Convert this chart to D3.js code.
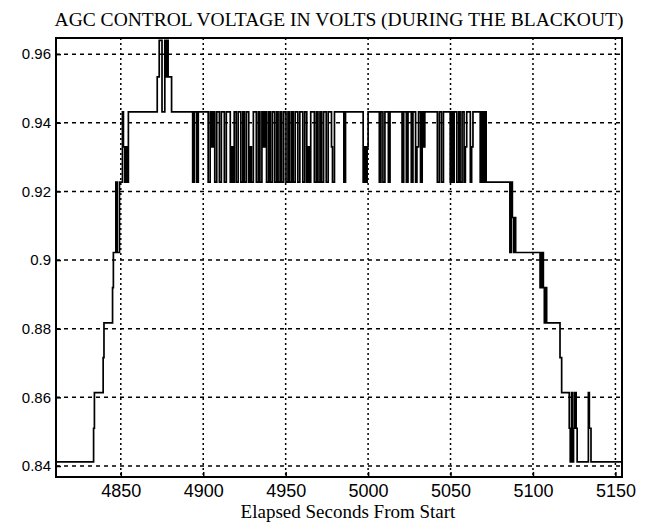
<!DOCTYPE html>
<html>
<head>
<meta charset="utf-8">
<script src="https://cdn.jsdelivr.net/npm/d3@7"></script>
<style>
body { margin: 0; background: #fff; }
</style>
</head>
<body>
<div id="chart"></div>
<script>
// AGC voltage (seconds, volts)
var times = [
	4810.7, 4833.5, 4834.0, 4839.3, 4839.8, 4845.0, 4845.5,
	4847.0, 4847.8, 4849.2, 4851.0, 4851.6, 4852.4, 4853.2, 4854.0, 4854.6,
	4872.1, 4873.3, 4875.0, 4876.7, 4877.6, 4878.0, 4878.7, 4880.8,
	4893.6, 4894.6, 4896.0, 4897.0, 4903.0, 4904.2, 4905.2, 4906.0,
	4907.0, 4908.2, 4909.8, 4911.0, 4912.8, 4914.0,
	4916.4, 4917.3, 4917.8, 4918.8, 4920.0, 4921.2, 4922.8, 4924.0, 4925.0, 4926.2,
	4927.6, 4928.6, 4929.2, 4930.4, 4932.2, 4933.4, 4934.4, 4935.6, 4936.6, 4937.4,
	4938.4, 4939.6, 4940.6, 4941.8, 4943.2, 4944.4, 4945.4, 4946.6, 4947.6, 4948.8,
	4950.2, 4951.4, 4952.4, 4953.6, 4954.6, 4955.8, 4957.4, 4958.6, 4960.4, 4961.6,
	4962.8, 4963.7, 4964.2, 4965.2, 4967.4, 4968.6, 4969.6, 4970.8, 4971.8, 4973.0,
	4974.6, 4975.8, 4977.8, 4978.4, 4979.6, 4985.3, 4986.3,
	4997.0, 4997.8, 4998.5, 4999.4, 5000.0,
	5006.8, 5007.8, 5009.0, 5010.2, 5012.3, 5013.3,
	5020.6, 5021.6, 5023.2, 5024.2, 5026.2, 5027.2, 5028.8, 5029.6, 5030.6,
	5031.8, 5032.8, 5033.8, 5034.4,
	5042.0, 5043.2, 5044.5, 5045.7, 5049.8, 5050.6, 5051.4, 5052.2,
	5053.8, 5055.0, 5055.8, 5057.0, 5058.2, 5059.0, 5059.8,
	5062.0, 5062.8, 5063.6, 5068.0, 5068.8, 5069.6, 5070.6, 5071.6,
	5086.0, 5086.8, 5087.5, 5088.2, 5088.8, 5089.5,
	5104.3, 5104.8, 5105.3, 5105.8, 5106.3, 5106.9, 5107.4, 5108.3,
	5116.4, 5117.4,
	5122.0, 5122.6, 5123.4, 5124.0, 5124.6, 5125.2, 5126.2, 5126.8,
	5133.6, 5134.2, 5135.2, 5154.0
];
var volts = [
	0.8412, 0.8510, 0.8614, 0.8716, 0.8817, 0.8920, 0.9022,
	0.9227, 0.9022, 0.9227, 0.9432, 0.9330, 0.9227, 0.9330, 0.9227, 0.9432,
	0.9534, 0.9640, 0.9432, 0.9640, 0.9534, 0.9640, 0.9534, 0.9432,
	0.9227, 0.9432, 0.9227, 0.9432, 0.9227, 0.9432, 0.9330, 0.9432,
	0.9227, 0.9432, 0.9227, 0.9432, 0.9227, 0.9432,
	0.9227, 0.9330, 0.9227, 0.9432, 0.9227, 0.9432, 0.9227, 0.9432, 0.9227, 0.9432,
	0.9227, 0.9330, 0.9227, 0.9432, 0.9227, 0.9432, 0.9227, 0.9432, 0.9330, 0.9432,
	0.9227, 0.9432, 0.9227, 0.9432, 0.9227, 0.9432, 0.9227, 0.9432, 0.9227, 0.9432,
	0.9227, 0.9432, 0.9227, 0.9432, 0.9227, 0.9432, 0.9227, 0.9432, 0.9227, 0.9432,
	0.9227, 0.9330, 0.9227, 0.9432, 0.9227, 0.9432, 0.9227, 0.9432, 0.9227, 0.9432,
	0.9227, 0.9432, 0.9330, 0.9227, 0.9432, 0.9227, 0.9432,
	0.9227, 0.9330, 0.9227, 0.9330, 0.9432,
	0.9227, 0.9432, 0.9227, 0.9432, 0.9227, 0.9432,
	0.9227, 0.9432, 0.9227, 0.9432, 0.9227, 0.9432, 0.9227, 0.9330, 0.9432,
	0.9227, 0.9432, 0.9330, 0.9432,
	0.9227, 0.9432, 0.9227, 0.9432, 0.9227, 0.9432, 0.9227, 0.9432,
	0.9227, 0.9432, 0.9227, 0.9432, 0.9227, 0.9330, 0.9432,
	0.9227, 0.9330, 0.9432, 0.9227, 0.9432, 0.9227, 0.9432, 0.9227,
	0.9022, 0.9227, 0.9124, 0.9022, 0.9124, 0.9022,
	0.8920, 0.9022, 0.8920, 0.9022, 0.8920, 0.8817, 0.8920, 0.8817,
	0.8716, 0.8614,
	0.8510, 0.8412, 0.8614, 0.8412, 0.8510, 0.8614, 0.8510, 0.8412,
	0.8614, 0.8510, 0.8412, 0.8412
];
var x_ticks = [4850, 4900, 4950, 5000, 5050, 5100, 5150];
var y_ticks = [0.84, 0.86, 0.88, 0.9, 0.92, 0.94, 0.96];
var y_tick_labels = ['0.84', '0.86', '0.88', '0.9', '0.92', '0.94', '0.96'];

var chart_width = 646;
var chart_height = 525;
// plot box ("top" clashes with window.top, hence the prefix)
var plot_left = 56, plot_right = 622, plot_top = 38, plot_bottom = 477;

var svg = d3.select('#chart')
	.append('svg')
	.attr('width', chart_width)
	.attr('height', chart_height);

var x = d3.scaleLinear().domain([4810.7, 5154]).range([plot_left, plot_right]);
var y = d3.scaleLinear().domain([0.8368, 0.9647]).range([plot_bottom, plot_top]);

// grid
svg.selectAll('.hgrid')
	.data(y_ticks)
	.enter()
	.append('line')
	.attr('x1', plot_left).attr('x2', plot_right)
	.attr('y1', function(d){ return y(d); })
	.attr('y2', function(d){ return y(d); })
	.attr('stroke', '#000')
	.attr('stroke-width', 1.5)
	.attr('stroke-dasharray', '4,4');

svg.selectAll('.vgrid')
	.data(x_ticks)
	.enter()
	.append('line')
	.attr('x1', function(d){ return x(d); })
	.attr('x2', function(d){ return x(d); })
	.attr('y1', plot_top).attr('y2', plot_bottom)
	.attr('stroke', '#000')
	.attr('stroke-width', 1.5)
	.attr('stroke-dasharray', '2,3');

// the signal
var data = times.map(function(t, i){ return [t, volts[i]]; });
var line = d3.line()
	.x(function(d){ return x(d[0]); })
	.y(function(d){ return y(d[1]); })
	.curve(d3.curveStepAfter);

svg.append('path')
	.datum(data)
	.attr('d', line)
	.attr('fill', 'none')
	.attr('stroke', '#000')
	.attr('stroke-width', 1.7);

// frame and ticks
svg.append('rect')
	.attr('x', plot_left).attr('y', plot_top)
	.attr('width', plot_right - plot_left).attr('height', plot_bottom - plot_top)
	.attr('fill', 'none')
	.attr('stroke', '#000')
	.attr('stroke-width', 2);

svg.append('g')
	.attr('transform', 'translate(0,' + plot_bottom + ')')
	.call(d3.axisBottom(x).tickValues(x_ticks).tickSize(-5).tickPadding(7).tickFormat(d3.format('d')))
	.call(function(g){ g.select('.domain').remove(); })
	.selectAll('text')
	.attr('font-family', 'Liberation Sans, Arial, sans-serif')
	.attr('font-size', 18)
	.attr('fill', '#000');

svg.append('g')
	.attr('transform', 'translate(' + plot_left + ',0)')
	.call(d3.axisLeft(y).tickValues(y_ticks).tickSize(-5).tickPadding(5)
		.tickFormat(function(d, i){ return y_tick_labels[i]; }))
	.call(function(g){ g.select('.domain').remove(); })
	.selectAll('text')
	.attr('font-family', 'Liberation Sans, Arial, sans-serif')
	.attr('font-size', 15)
	.attr('fill', '#000');

svg.selectAll('.tick line').attr('stroke', '#000').attr('stroke-width', 1.5);

// titles
svg.append('text')
	.text('AGC CONTROL VOLTAGE IN VOLTS (DURING THE BLACKOUT)')
	.attr('x', (plot_left + plot_right) / 2)
	.attr('y', 26)
	.attr('font-family', 'Liberation Serif, Times New Roman, serif')
	.attr('font-size', 19.5)
	.attr('text-anchor', 'middle');

svg.append('text')
	.text('Elapsed Seconds From Start')
	.attr('x', 348)
	.attr('y', 518)
	.attr('font-family', 'Liberation Serif, Times New Roman, serif')
	.attr('font-size', 19)
	.attr('text-anchor', 'middle');
</script>
</body>
</html>
